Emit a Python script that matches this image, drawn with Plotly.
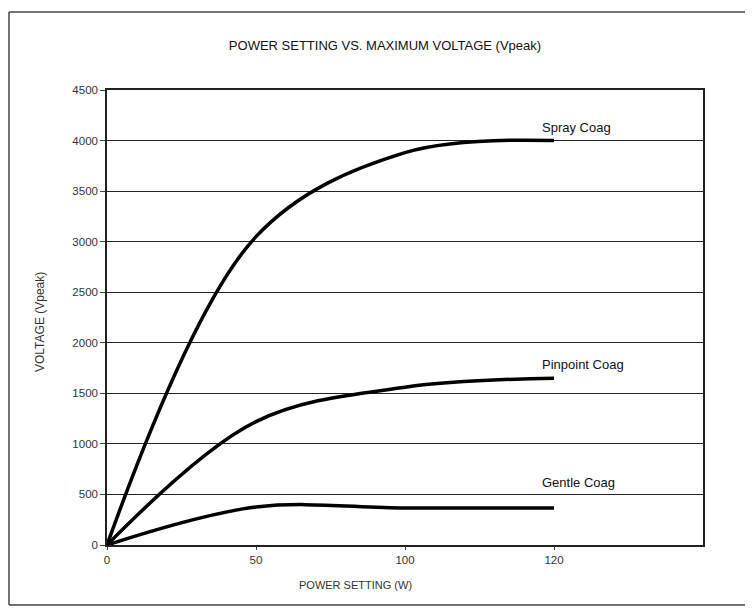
import plotly.graph_objects as go

power_settings = ["0", "50", "100", "120"]
spray_coag = [0, 3050, 3880, 4000]
pinpoint_coag = [0, 1220, 1560, 1650]
gentle_coag = [0, 375, 365, 365]

y_ticks = [0, 500, 1000, 1500, 2000, 2500, 3000, 3500, 4000, 4500]

FONT = "Liberation Sans, Arial, sans-serif"

# page body has an 8px margin; margins below put the plot area at
# screen x 107..703, y 90..545
L, T = 99, 82
PW, PH = 596, 455

fig = go.Figure()
for name, vals in [("Spray Coag", spray_coag), ("Pinpoint Coag", pinpoint_coag), ("Gentle Coag", gentle_coag)]:
    fig.add_trace(go.Scatter(
        x=power_settings, y=vals, mode="lines", name=name,
        line=dict(color="black", width=3.5, shape="spline", smoothing=1.0),
        showlegend=False, hoverinfo="x+y+name",
    ))

fx0 = (1 - L) / PW
fx1 = (760 - L) / PW
fy0 = (T + PH - 597) / PH
fy1 = (T + PH - 4) / PH
frame = dict(color="#444", width=1.5)

fig.update_layout(
    width=753, height=614,
    margin=dict(l=L, r=753 - L - PW, t=T, b=614 - T - PH),
    paper_bgcolor="white", plot_bgcolor="white",
    font=dict(family=FONT, color="#222", size=10),
    title=dict(text="POWER SETTING VS. MAXIMUM VOLTAGE (Vpeak)",
               x=377 / 753, xanchor="center", y=1 - 37 / 614, yanchor="middle",
               font=dict(family=FONT, size=13, color="#111")),
    xaxis=dict(type="category", range=[0, 4], showgrid=False,
               showline=True, linecolor="#222", linewidth=1.5, mirror=True,
               ticks="outside", ticklen=3, tickcolor="#444",
               tickfont=dict(size=11.5, color="#333"), zeroline=False),
    yaxis=dict(range=[0, 4500], tickvals=y_ticks,
               showgrid=True, gridcolor="#222", gridwidth=1,
               showline=True, linecolor="#222", linewidth=1.5, mirror=True,
               ticks="outside", ticklen=5, tickcolor="#444",
               tickfont=dict(size=11.5, color="#333"), zeroline=False),
    shapes=[
        dict(type="line", xref="paper", yref="paper", x0=fx0, x1=fx1, y0=fy1, y1=fy1, line=frame, layer="below"),
        dict(type="line", xref="paper", yref="paper", x0=fx0, x1=fx1, y0=fy0, y1=fy0, line=frame, layer="below"),
        dict(type="line", xref="paper", yref="paper", x0=fx0, x1=fx0, y0=fy0, y1=fy1, line=frame, layer="below"),
    ],
)

labels = [("Spray Coag", 4126), ("Pinpoint Coag", 1788), ("Gentle Coag", 619)]
for text, yv in labels:
    fig.add_annotation(x=2.906, y=yv, xref="x", yref="y", text=text,
                       showarrow=False, xanchor="left", yanchor="middle",
                       font=dict(family=FONT, size=13, color="#111"))

fig.add_annotation(text="VOLTAGE (Vpeak)", xref="paper", yref="paper",
                   x=(40 - 107) / PW, y=(545 - 322) / PH, textangle=-90,
                   showarrow=False, xanchor="center", yanchor="middle",
                   font=dict(family=FONT, size=12, color="#333"))
fig.add_annotation(text="POWER SETTING (W)", xref="paper", yref="paper",
                   x=(355 - 107) / PW, y=(545 - 585) / PH,
                   showarrow=False, xanchor="center", yanchor="middle",
                   font=dict(family=FONT, size=11, color="#333"))

fig.write_html("out.html")
